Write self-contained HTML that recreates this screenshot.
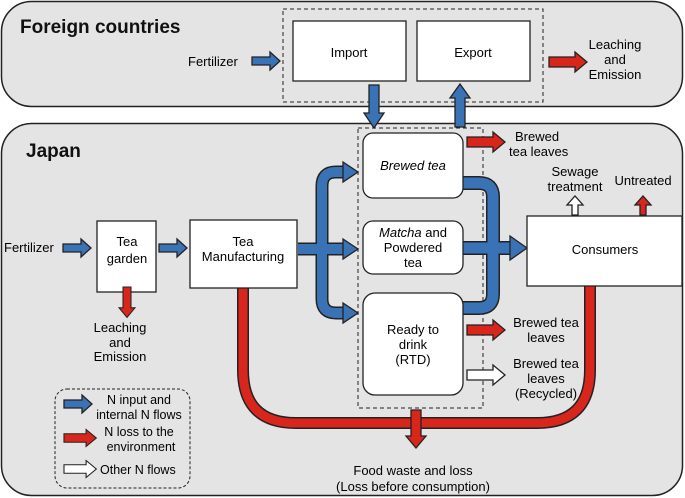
<!DOCTYPE html>
<html><head><meta charset="utf-8"><style>
html,body{margin:0;padding:0;background:#fff;}
svg{display:block;font-family:"Liberation Sans",Arial,sans-serif;}
</style></head><body>
<svg width="685" height="498" viewBox="0 0 685 498" xmlns="http://www.w3.org/2000/svg">
<defs>
<g id="ab"><polygon points="0,-4 18,-4 18,-9 28,0 18,9 18,4 0,4" fill="#3a73b5" stroke="#222" stroke-width="1.3"/></g>
<g id="ar"><polygon points="0,-5 26,-5 26,-10 38,0 26,10 26,5 0,5" fill="#d9261c" stroke="#222" stroke-width="1.3"/></g>
<g id="aw"><polygon points="0,-5 26,-5 26,-10 38,0 26,10 26,5 0,5" fill="#fff" stroke="#222" stroke-width="1.3"/></g>
</defs>
<!-- panels -->
<rect x="1.5" y="1.5" width="681" height="105" rx="30" fill="#e5e4e4" stroke="#222" stroke-width="1.5"/>
<rect x="1.5" y="123.5" width="681" height="372" rx="30" fill="#e5e4e4" stroke="#222" stroke-width="1.5"/>
<text x="20" y="33" font-size="19" font-weight="bold" fill="#111">Foreign countries</text>
<text x="26" y="157" font-size="19" font-weight="bold" fill="#111">Japan</text>

<!-- foreign -->
<rect x="283" y="9" width="260" height="93" fill="none" stroke="#222" stroke-dasharray="4,3"/>
<rect x="293" y="21" width="113" height="60" fill="#fff" stroke="#222" stroke-width="1.3"/>
<rect x="417" y="21" width="113" height="60" fill="#fff" stroke="#222" stroke-width="1.3"/>
<text x="349" y="57" font-size="13" text-anchor="middle">Import</text>
<text x="473" y="57" font-size="13" text-anchor="middle">Export</text>
<text x="188" y="66" font-size="13">Fertilizer</text>
<use href="#ab" x="252" y="61"/>
<use href="#ar" x="549" y="62"/>
<text font-size="13" text-anchor="middle"><tspan x="615" y="49">Leaching</tspan><tspan x="615" y="64">and</tspan><tspan x="615" y="79">Emission</tspan></text>
<polygon points="369,85 379,85 379,113 384,113 374,128 364,113 369,113" fill="#3a73b5" stroke="#222" stroke-width="1.3"/>
<polygon points="455,127 465,127 465,98 470,98 460,84 450,98 455,98" fill="#3a73b5" stroke="#222" stroke-width="1.3"/>

<!-- japan -->
<rect x="358" y="128" width="125" height="280" fill="none" stroke="#222" stroke-dasharray="4,3"/>

<!-- red U -->
<path d="M243,288 V370 Q243,423 296,423 H537 Q590,423 590,370 V284" fill="none" stroke="#222" stroke-width="12"/>
<path d="M243,288 V370 Q243,423 296,423 H537 Q590,423 590,370 V284" fill="none" stroke="#d9261c" stroke-width="9"/>
<use href="#ar" transform="translate(416,410) rotate(90)"/>
<text font-size="13" text-anchor="middle"><tspan x="413" y="475">Food waste and loss</tspan><tspan x="413" y="491">(Loss before consumption)</tspan></text>

<!-- blue branches -->
<g fill="none" stroke-linejoin="round">
<path d="M298,249 H345 M345,172 H336 Q322,172 322,186 V299 Q322,313 336,313 H345" stroke="#222" stroke-width="13"/>
<path d="M298,249 H345 M345,172 H336 Q322,172 322,186 V299 Q322,313 336,313 H345" stroke="#3a73b5" stroke-width="10"/>
<path d="M463,183 H479 Q493,183 493,197 V294 Q493,308 479,308 H463 M463,248 H510" stroke="#222" stroke-width="14"/>
<path d="M463,183 H479 Q493,183 493,197 V294 Q493,308 479,308 H463 M463,248 H510" stroke="#3a73b5" stroke-width="11"/>
</g>
<polygon points="343,162 358,172 343,182" fill="#3a73b5" stroke="#222" stroke-width="1.3"/>
<polygon points="343,239 358,249 343,259" fill="#3a73b5" stroke="#222" stroke-width="1.3"/>
<polygon points="343,303 358,313 343,323" fill="#3a73b5" stroke="#222" stroke-width="1.3"/>
<polygon points="510,236 527,248 510,260" fill="#3a73b5" stroke="#222" stroke-width="1.3"/>

<rect x="363" y="133" width="100" height="65" rx="10" fill="#fff" stroke="#222" stroke-width="1.3"/>
<rect x="363" y="221" width="100" height="53" rx="10" fill="#fff" stroke="#222" stroke-width="1.3"/>
<rect x="363" y="293" width="100" height="102" rx="12" fill="#fff" stroke="#222" stroke-width="1.3"/>
<text x="413" y="170" font-size="13" text-anchor="middle" font-style="italic">Brewed tea</text>
<text font-size="13" text-anchor="middle"><tspan x="413" y="237"><tspan font-style="italic">Matcha</tspan> and</tspan><tspan x="413" y="252">Powdered</tspan><tspan x="413" y="267">tea</tspan></text>
<text font-size="13" text-anchor="middle"><tspan x="413" y="334">Ready to</tspan><tspan x="413" y="349">drink</tspan><tspan x="413" y="364">(RTD)</tspan></text>

<use href="#ar" x="467" y="142"/>
<text font-size="13"><tspan x="515" y="141">Brewed</tspan><tspan x="509" y="156">tea leaves</tspan></text>
<use href="#ar" x="467" y="330"/>
<text font-size="13" text-anchor="middle"><tspan x="546" y="327">Brewed tea</tspan><tspan x="546" y="342">leaves</tspan></text>
<use href="#aw" x="467" y="375"/>
<text font-size="13" text-anchor="middle"><tspan x="546" y="368">Brewed tea</tspan><tspan x="546" y="383">leaves</tspan><tspan x="546" y="398">(Recycled)</tspan></text>

<rect x="527" y="216" width="155" height="70" fill="#fff" stroke="#222" stroke-width="1.3"/>
<text x="605" y="254" font-size="13" text-anchor="middle">Consumers</text>
<text font-size="13" text-anchor="middle"><tspan x="575" y="176">Sewage</tspan><tspan x="575" y="191">treatment</tspan></text>
<text x="643" y="185" font-size="13" text-anchor="middle">Untreated</text>
<polygon points="572,215 572,205 567,205 575,196 583,205 578,205 578,215" fill="#fff" stroke="#222" stroke-width="1.3"/>
<polygon points="640,215 640,205 635,205 643,196 651,205 646,205 646,215" fill="#d9261c" stroke="#222" stroke-width="1.3"/>

<text x="4" y="252" font-size="13">Fertilizer</text>
<use href="#ab" x="63" y="248"/>
<rect x="97" y="221" width="59" height="71" fill="#fff" stroke="#222" stroke-width="1.3"/>
<text font-size="13" text-anchor="middle"><tspan x="127" y="246">Tea</tspan><tspan x="127" y="263">garden</tspan></text>
<use href="#ab" x="159" y="248"/>
<rect x="190" y="220" width="107" height="68" fill="#fff" stroke="#222" stroke-width="1.3"/>
<text font-size="13" text-anchor="middle"><tspan x="243" y="246">Tea</tspan><tspan x="243" y="261">Manufacturing</tspan></text>
<use href="#ar" transform="translate(127,287) rotate(90) scale(0.8)"/>
<text font-size="13" text-anchor="middle"><tspan x="120" y="332">Leaching</tspan><tspan x="120" y="347">and</tspan><tspan x="120" y="361">Emission</tspan></text>

<!-- legend -->
<rect x="55" y="389" width="135" height="99" rx="12" fill="none" stroke="#222" stroke-dasharray="3,2"/>
<use href="#ab" x="64" y="404"/>
<text font-size="12.5" text-anchor="middle"><tspan x="139" y="404">N input and</tspan><tspan x="139" y="419">internal N flows</tspan></text>
<use href="#ar" transform="translate(64,438) scale(0.85)"/>
<text font-size="12.5" text-anchor="middle"><tspan x="139" y="436">N loss to the</tspan><tspan x="141" y="451">environment</tspan></text>
<use href="#aw" transform="translate(64,469) scale(0.85)"/>
<text x="100" y="474" font-size="12.5">Other N flows</text>
</svg>
</body></html>
